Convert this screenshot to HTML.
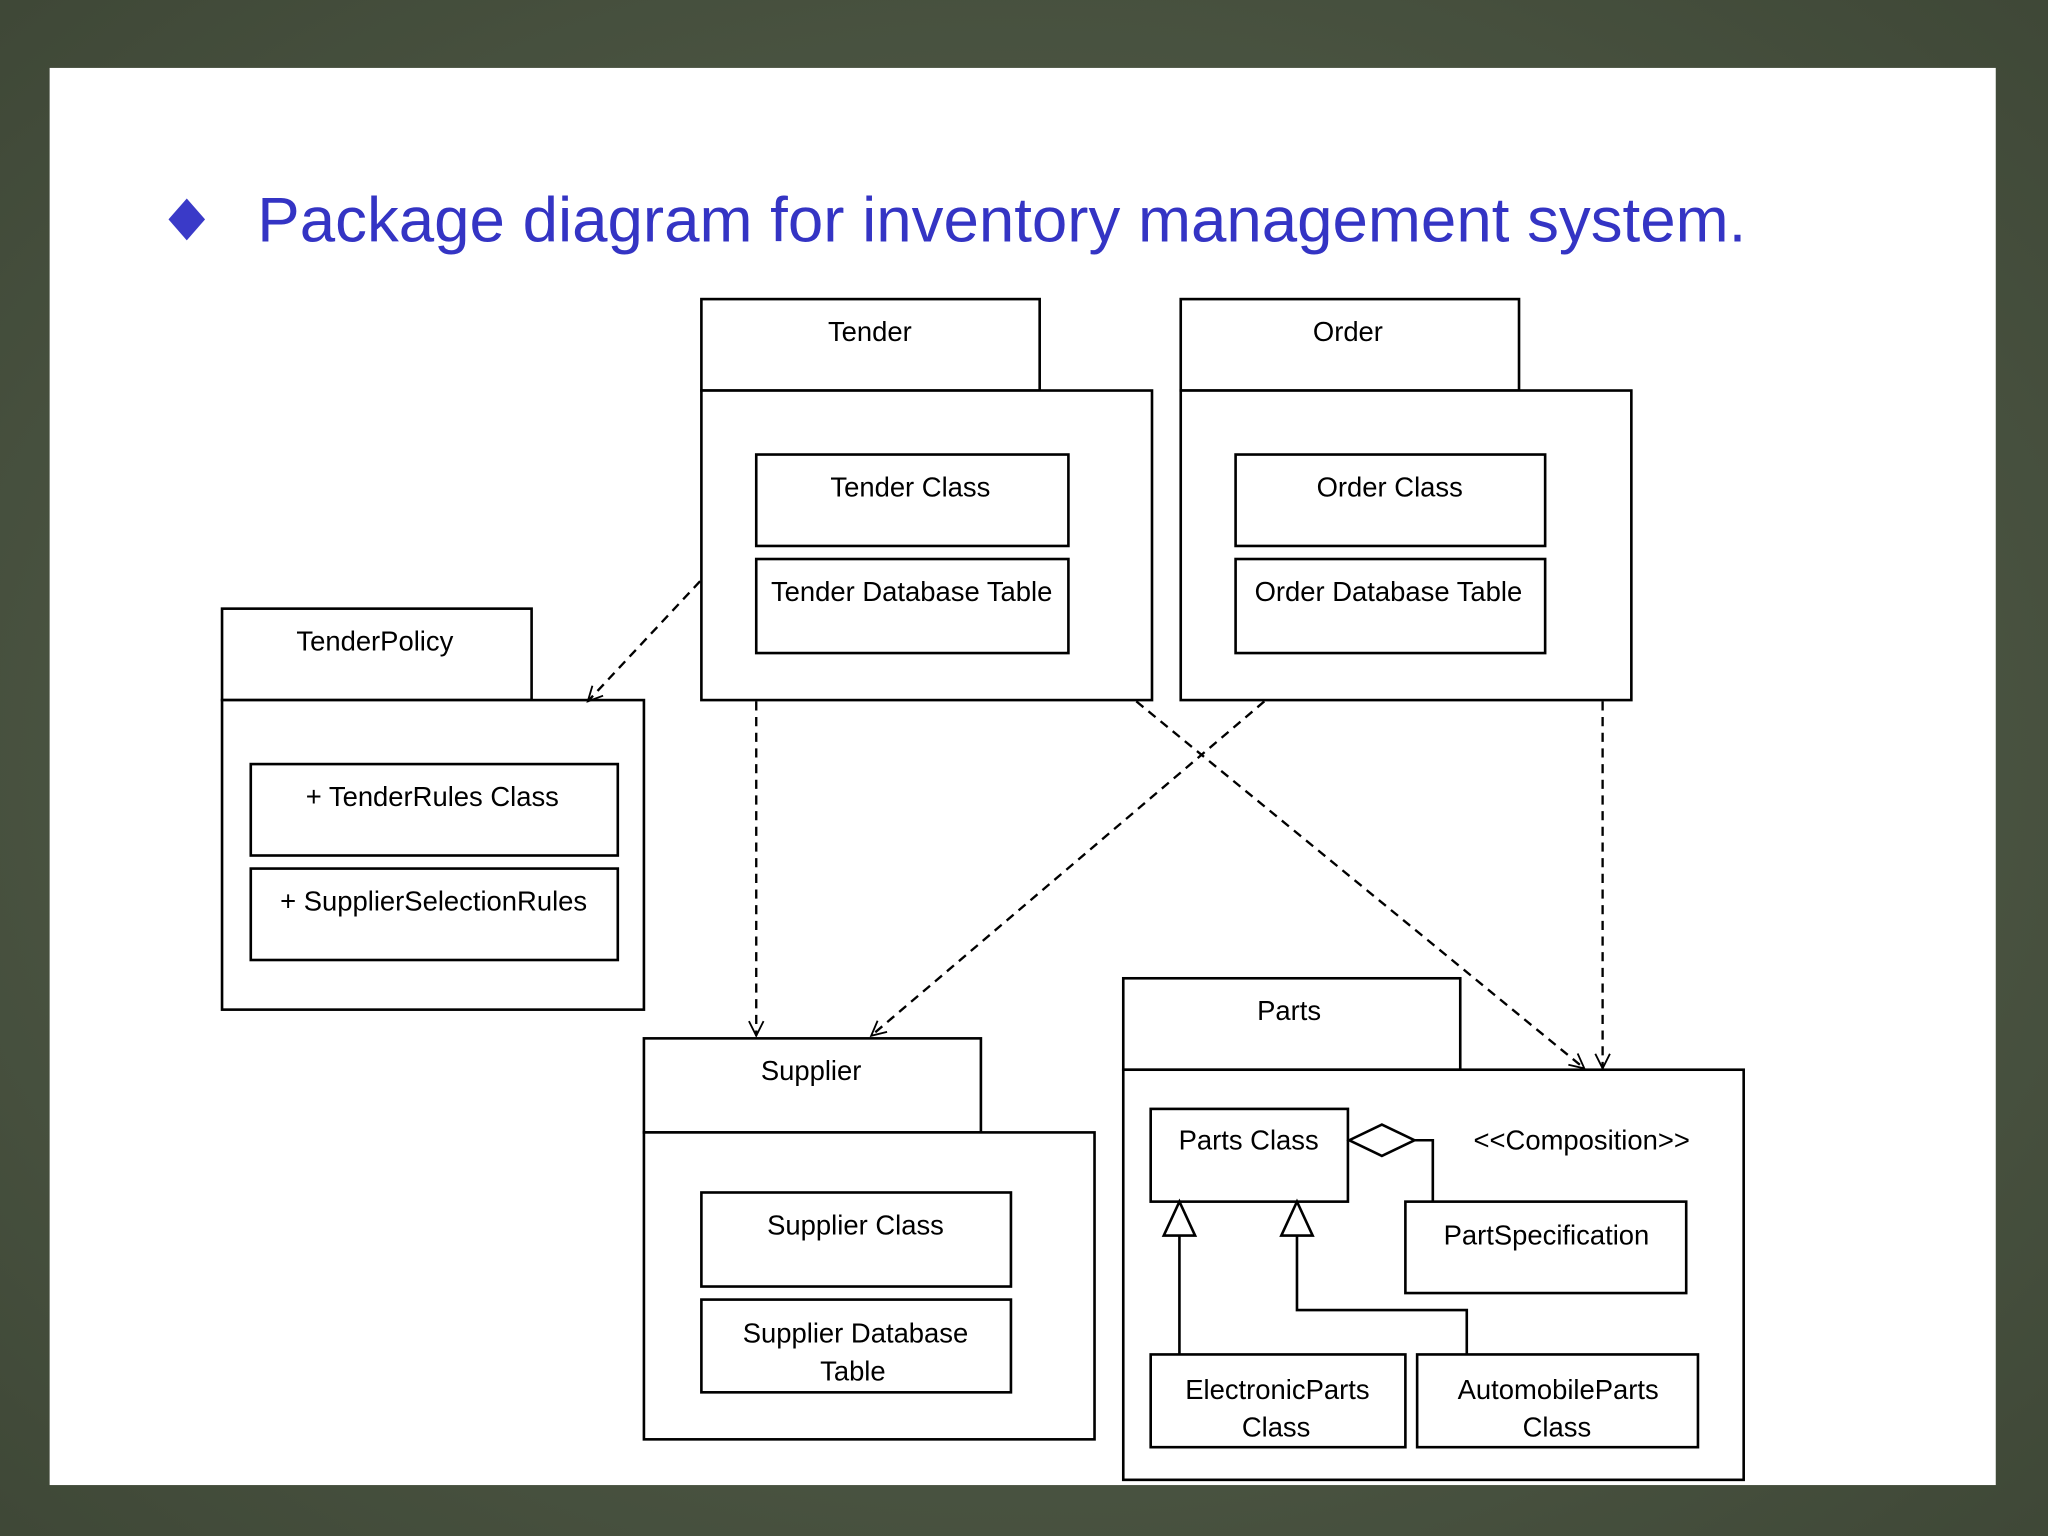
<!DOCTYPE html>
<html><head><meta charset="utf-8"><style>
html,body{margin:0;padding:0;background:#4d5744;}
svg{display:block}
text{font-family:"Liberation Sans",sans-serif;}
</style></head><body>
<svg width="2048" height="1536" viewBox="0 0 1568 1176" xmlns="http://www.w3.org/2000/svg">
<defs>
<radialGradient id="bg" cx="50%" cy="50%" r="70%">
<stop offset="0" stop-color="#5c6752"/><stop offset="1" stop-color="#3f4837"/>
</radialGradient>
<marker id="ah" viewBox="0 0 20 20" refX="18" refY="10" markerWidth="14" markerHeight="14" markerUnits="userSpaceOnUse" orient="auto">
<path d="M2 2 L18 10 L2 18" fill="none" stroke="#000" stroke-width="2"/>
</marker>
</defs>
<rect width="1568" height="1176" fill="url(#bg)"/>
<rect x="38" y="52" width="1490" height="1085" fill="#fff"/>
<path d="M143 152 L157 168 L143 184 L129 168 Z" fill="#3a3ac8"/>
<text x="197" y="185" font-size="48" fill="#3434c4" textLength="1140" lengthAdjust="spacingAndGlyphs">Package diagram for inventory management system.</text>
<g fill="#fff" stroke="#000" stroke-width="2">
<rect x="537" y="229" width="259" height="70"/><rect x="537" y="299" width="345" height="237"/>
<rect x="579" y="348" width="239" height="70"/><rect x="579" y="428" width="239" height="72"/>
<rect x="904" y="229" width="259" height="70"/><rect x="904" y="299" width="345" height="237"/>
<rect x="946" y="348" width="237" height="70"/><rect x="946" y="428" width="237" height="72"/>
<rect x="170" y="466" width="237" height="70"/><rect x="170" y="536" width="323" height="237"/>
<rect x="192" y="585" width="281" height="70"/><rect x="192" y="665" width="281" height="70"/>
<rect x="493" y="795" width="258" height="72"/><rect x="493" y="867" width="345" height="235"/>
<rect x="537" y="913" width="237" height="72"/><rect x="537" y="995" width="237" height="71"/>
<rect x="860" y="749" width="258" height="70"/><rect x="860" y="819" width="475" height="314"/>
<rect x="881" y="849" width="151" height="71"/><rect x="1076" y="920" width="215" height="70"/>
<rect x="881" y="1037" width="195" height="71"/><rect x="1085" y="1037" width="215" height="71"/>
</g>
<g fill="none" stroke="#000" stroke-width="2">
<path d="M1033 873 L1058 861 L1083 873 L1058 885 Z" fill="#fff"/>
<path d="M1083 873 H1097 V920"/>
<path d="M903 920 L891 946 H915 Z" fill="#fff"/><path d="M903 946 V1037"/>
<path d="M993 920 L981 946 H1005 Z" fill="#fff"/><path d="M993 946 V1003 H1123 V1037"/>
<g stroke-dasharray="7,5" stroke-width="1.8" marker-end="url(#ah)">
<path d="M536 445 L450 537"/>
<path d="M579 537 L579 793"/>
<path d="M968 537 L667 793"/>
<path d="M870 537 L1213 818"/>
<path d="M1227 537 L1227 818"/>
</g>
</g>
<g font-size="21" text-anchor="middle" fill="#000">
<text x="666" y="261">Tender</text>
<text x="697" y="380">Tender Class</text>
<text x="698" y="460">Tender Database Table</text>
<text x="1032" y="261">Order</text>
<text x="1064" y="380">Order Class</text>
<text x="1063" y="460">Order Database Table</text>
<text x="287" y="498">TenderPolicy</text>
<text x="331" y="617">+ TenderRules Class</text>
<text x="332" y="697">+ SupplierSelectionRules</text>
<text x="621" y="827">Supplier</text>
<text x="655" y="945">Supplier Class</text>
<text x="655" y="1028">Supplier Database</text>
<text x="653" y="1057">Table</text>
<text x="987" y="781">Parts</text>
<text x="956" y="880">Parts Class</text>
<text x="1211" y="880">&lt;&lt;Composition&gt;&gt;</text>
<text x="1184" y="953">PartSpecification</text>
<text x="978" y="1071">ElectronicParts</text>
<text x="977" y="1100">Class</text>
<text x="1193" y="1071">AutomobileParts</text>
<text x="1192" y="1100">Class</text>
</g>
</svg>
</body></html>
